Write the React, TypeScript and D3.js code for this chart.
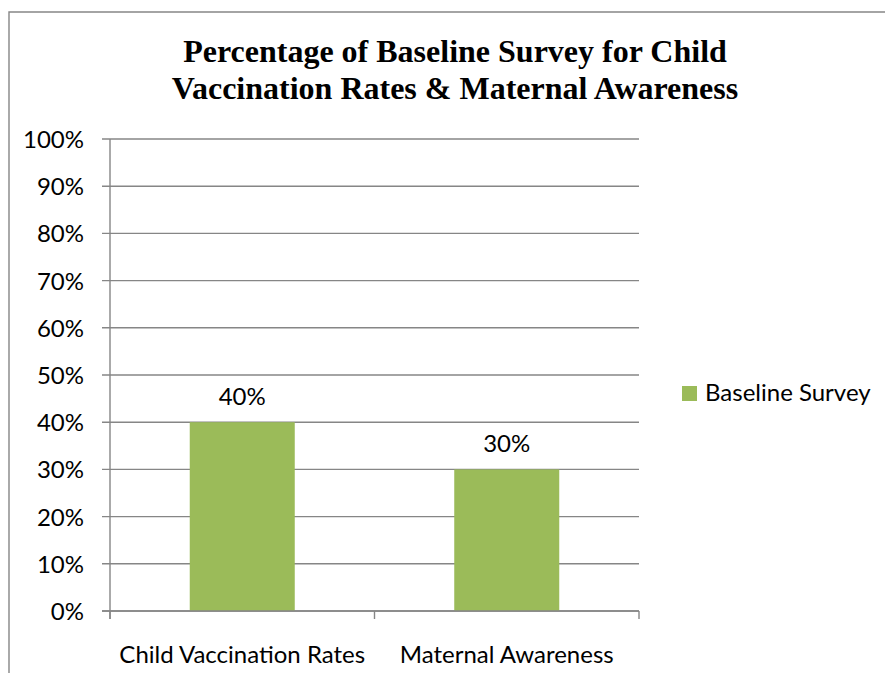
import React from "react";
import * as d3 from "d3";

const categories = ["Child Vaccination Rates", "Maternal Awareness"];
const baselineValues = [40, 30];
const seriesName = "Baseline Survey";
const yTicks = [0, 10, 20, 30, 40, 50, 60, 70, 80, 90, 100];
const titleLines = [
  "Percentage of Baseline Survey for Child",
  "Vaccination Rates & Maternal Awareness",
];

const W = 885;
const H = 673;
const plotLeft = 110;
const plotRight = 639;
const plotTop = 139;
const plotBottom = 611;
const barColor = "#9BBB59";
const gridColor = "#868686";
const labelFont = "Lato, 'Open Sans', sans-serif";
const labelSize = 24;

export default function App() {
  const x = d3.scaleBand<string>().domain(categories).range([plotLeft, plotRight]).padding(0);
  const y = d3.scaleLinear().domain([0, 100]).range([plotBottom, plotTop]);
  const barW = x.bandwidth() * 0.397;
  const xTickPositions = [plotLeft, ...categories.map((c) => (x(c) as number) + x.bandwidth())];

  return (
    <svg
      width={W}
      height={H}
      style={{ position: "absolute", left: 0, top: 0, background: "#fff" }}
    >
      <rect x={0} y={0} width={W} height={H} fill="#fff" />
      {/* outer chart border (cropped at right/bottom) */}
      <path d={`M9,${H + 5} L9,12 L${W + 5},12`} fill="none" stroke={gridColor} strokeWidth={1.4} />
      {/* title */}
      <text
        x={455}
        textAnchor="middle"
        fontFamily="'Liberation Serif', 'Times New Roman', serif"
        fontWeight="bold"
        fontSize={32}
        fill="#000"
      >
        {titleLines.map((t, i) => (
          <tspan key={i} x={455} y={62 + i * 37}>
            {t}
          </tspan>
        ))}
      </text>
      {/* gridlines + y ticks */}
      {yTicks.map((t) => (
        <g key={t}>
          <line x1={plotLeft - 8} x2={plotRight} y1={y(t)} y2={y(t)} stroke={gridColor} strokeWidth={1.4} />
          <text
            x={84}
            y={y(t) + 9}
            textAnchor="end"
            fontFamily={labelFont}
            fontSize={labelSize}
            fill="#000"
          >
            {t}%
          </text>
        </g>
      ))}
      {/* y axis */}
      <line x1={plotLeft} x2={plotLeft} y1={plotTop} y2={plotBottom + 8} stroke={gridColor} strokeWidth={1.4} />
      {/* x tick marks */}
      {xTickPositions.map((p, i) => (
        <line key={i} x1={p} x2={p} y1={plotBottom} y2={plotBottom + 8} stroke={gridColor} strokeWidth={1.4} />
      ))}
      {/* bars */}
      {categories.map((c, i) => {
        const cx = (x(c) as number) + x.bandwidth() / 2;
        return (
          <g key={c}>
            <rect
              x={cx - barW / 2}
              y={y(baselineValues[i])}
              width={barW}
              height={y(0) - y(baselineValues[i])}
              fill={barColor}
            />
            <text
              x={cx}
              y={y(baselineValues[i]) - 17}
              textAnchor="middle"
              fontFamily={labelFont}
              fontSize={labelSize}
              fill="#000"
            >
              {baselineValues[i]}%
            </text>
            <text
              x={cx}
              y={663}
              textAnchor="middle"
              fontFamily={labelFont}
              fontSize={labelSize}
              fill="#000"
            >
              {c}
            </text>
          </g>
        );
      })}
      {/* x axis line redrawn above bars */}
      <line x1={plotLeft - 8} x2={plotRight} y1={plotBottom} y2={plotBottom} stroke={gridColor} strokeWidth={1.4} />
      {/* legend */}
      <rect x={682} y={386} width={15} height={15} fill={barColor} />
      <text x={705} y={401} fontFamily={labelFont} fontSize={labelSize} fill="#000">
        {seriesName}
      </text>
    </svg>
  );
}
